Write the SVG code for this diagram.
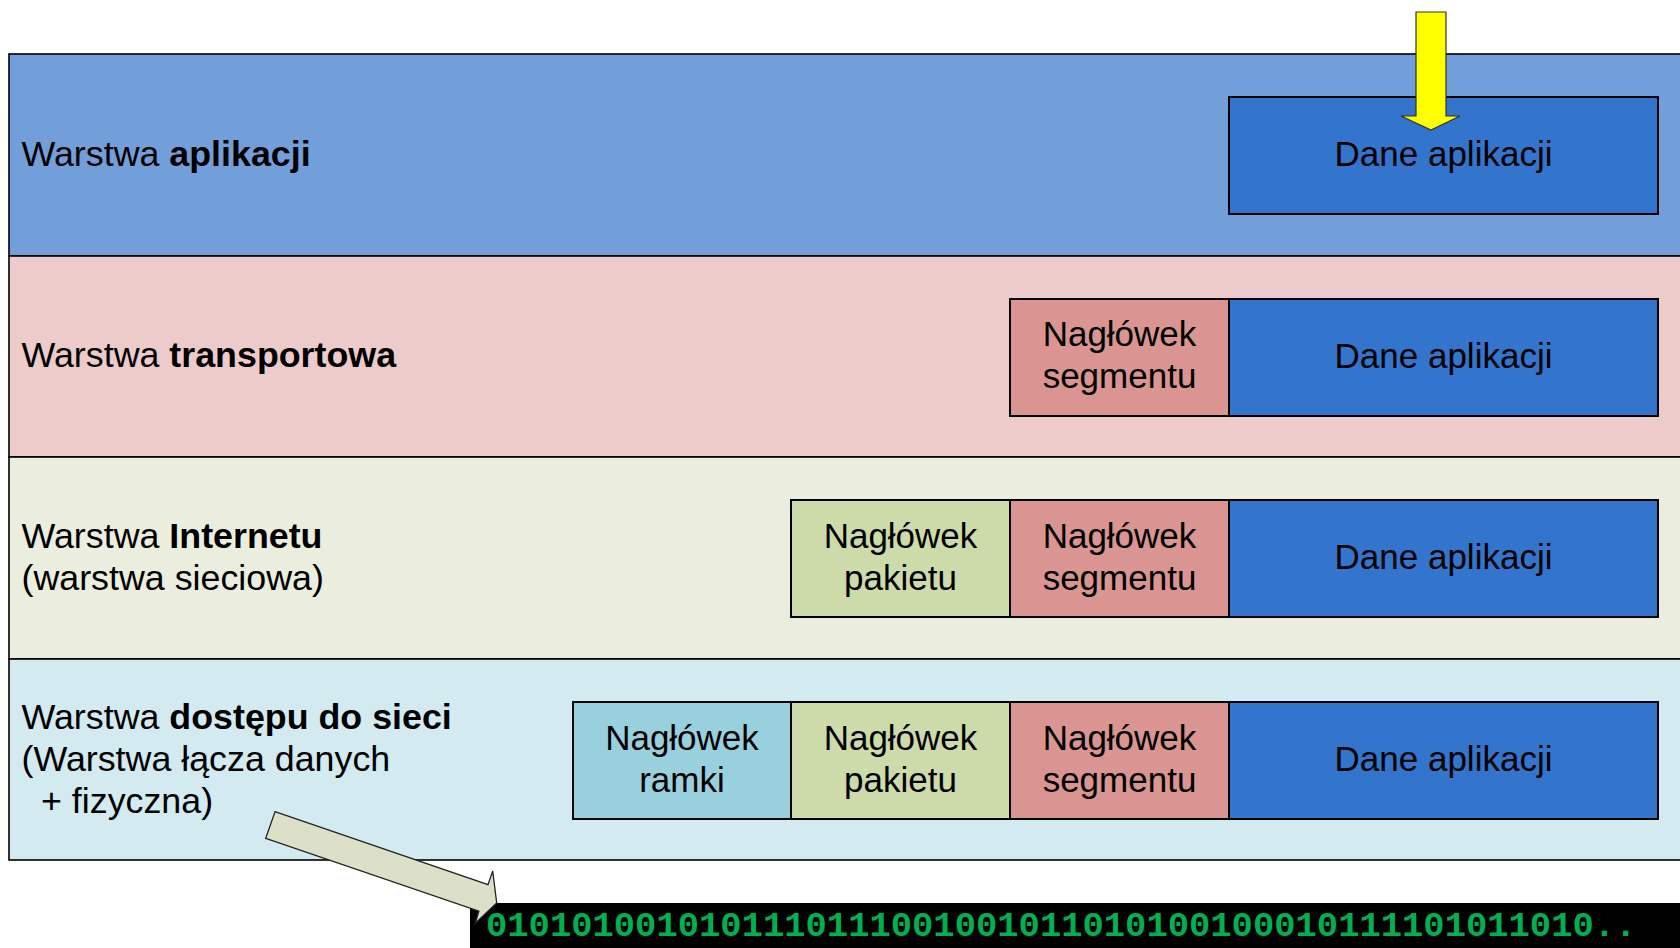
<svg xmlns="http://www.w3.org/2000/svg" width="1680" height="948" viewBox="0 0 1680 948">
  <style>
    .band { stroke: #000; stroke-width: 1.6; }
    .box { stroke: #000; stroke-width: 2; }
    .lbl { font-family: "Liberation Sans", Arial, sans-serif; font-size: 35px; fill: #000; }
    .side { font-size: 35.8px; }
    .ctr { text-anchor: middle; }
    .b { font-weight: bold; }
    .bits { font-family: "Liberation Mono", "Courier New", monospace; font-size: 35.5px; font-weight: bold; fill: #00B050; }
  </style>
  <rect width="1680" height="948" fill="#fff"/>

  <!-- Layer bands -->
  <g id="layer-application">
    <rect class="band" x="9" y="54" width="1690" height="202" fill="#729FDA"/>
    <text class="lbl side" x="21.5" y="166">Warstwa <tspan class="b">aplikacji</tspan></text>
  </g>
  <g id="layer-transport">
    <rect class="band" x="9" y="256" width="1690" height="201" fill="#ECCBCA"/>
    <text class="lbl side" x="21.5" y="367">Warstwa <tspan class="b">transportowa</tspan></text>
  </g>
  <g id="layer-internet">
    <rect class="band" x="9" y="457" width="1690" height="202" fill="#EBEEDF"/>
    <text class="lbl side" x="21.5" y="548">Warstwa <tspan class="b">Internetu</tspan></text>
    <text class="lbl side" x="21.5" y="590">(warstwa sieciowa)</text>
  </g>
  <g id="layer-access">
    <rect class="band" x="9" y="659" width="1690" height="201" fill="#D2EAF0"/>
    <text class="lbl side" x="21.5" y="729">Warstwa <tspan class="b">dostępu do sieci</tspan></text>
    <text class="lbl side" x="21.5" y="771">(Warstwa łącza danych</text>
    <text class="lbl side" x="41" y="813">+ fizyczna)</text>
  </g>

  <!-- Application layer data -->
  <g id="app-data-1">
    <rect class="box" x="1229" y="97" width="429" height="117" fill="#3374CC"/>
    <text class="lbl ctr" x="1443.5" y="166">Dane aplikacji</text>
  </g>

  <!-- Transport layer segment -->
  <g id="segment-header-2">
    <rect class="box" x="1010" y="299" width="219" height="117" fill="#DA9491"/>
    <text class="lbl ctr" x="1119.5" y="346">Nagłówek</text>
    <text class="lbl ctr" x="1119.5" y="388">segmentu</text>
  </g>
  <g id="app-data-2">
    <rect class="box" x="1229" y="299" width="429" height="117" fill="#3374CC"/>
    <text class="lbl ctr" x="1443.5" y="368">Dane aplikacji</text>
  </g>

  <!-- Internet layer packet -->
  <g id="packet-header-3">
    <rect class="box" x="791" y="500" width="219" height="117" fill="#CCDBA9"/>
    <text class="lbl ctr" x="900.5" y="548">Nagłówek</text>
    <text class="lbl ctr" x="900.5" y="590">pakietu</text>
  </g>
  <g id="segment-header-3">
    <rect class="box" x="1010" y="500" width="219" height="117" fill="#DA9491"/>
    <text class="lbl ctr" x="1119.5" y="548">Nagłówek</text>
    <text class="lbl ctr" x="1119.5" y="590">segmentu</text>
  </g>
  <g id="app-data-3">
    <rect class="box" x="1229" y="500" width="429" height="117" fill="#3374CC"/>
    <text class="lbl ctr" x="1443.5" y="569">Dane aplikacji</text>
  </g>

  <!-- Network access layer frame -->
  <g id="frame-header-4">
    <rect class="box" x="573" y="702" width="218" height="117" fill="#99D0DD"/>
    <text class="lbl ctr" x="682" y="750">Nagłówek</text>
    <text class="lbl ctr" x="682" y="792">ramki</text>
  </g>
  <g id="packet-header-4">
    <rect class="box" x="791" y="702" width="219" height="117" fill="#CCDBA9"/>
    <text class="lbl ctr" x="900.5" y="750">Nagłówek</text>
    <text class="lbl ctr" x="900.5" y="792">pakietu</text>
  </g>
  <g id="segment-header-4">
    <rect class="box" x="1010" y="702" width="219" height="117" fill="#DA9491"/>
    <text class="lbl ctr" x="1119.5" y="750">Nagłówek</text>
    <text class="lbl ctr" x="1119.5" y="792">segmentu</text>
  </g>
  <g id="app-data-4">
    <rect class="box" x="1229" y="702" width="429" height="117" fill="#3374CC"/>
    <text class="lbl ctr" x="1443.5" y="771">Dane aplikacji</text>
  </g>

  <!-- Bit stream on the wire -->
  <g id="bitstream">
    <rect x="470" y="903" width="1220" height="50" fill="#000"/>
    <text class="bits" x="486" y="936">0101010010101110111001001011010100100010111101011010..</text>
  </g>

  <!-- Arrows -->
  <g id="connectors">
    <polygon points="1416,12 1446,12 1446,116 1460,116 1431,130 1401,116 1416,116"
             fill="#FFFF00" stroke="#333" stroke-width="1.2" stroke-linejoin="miter"/>
    <polygon points="275,811.7 488,884.7 492.7,871 496.7,903 475.3,923.3 478.9,911.2 265.7,838.3"
             fill="#DCE0C8" stroke="#222" stroke-width="1.3" stroke-linejoin="miter"/>
  </g>
</svg>
